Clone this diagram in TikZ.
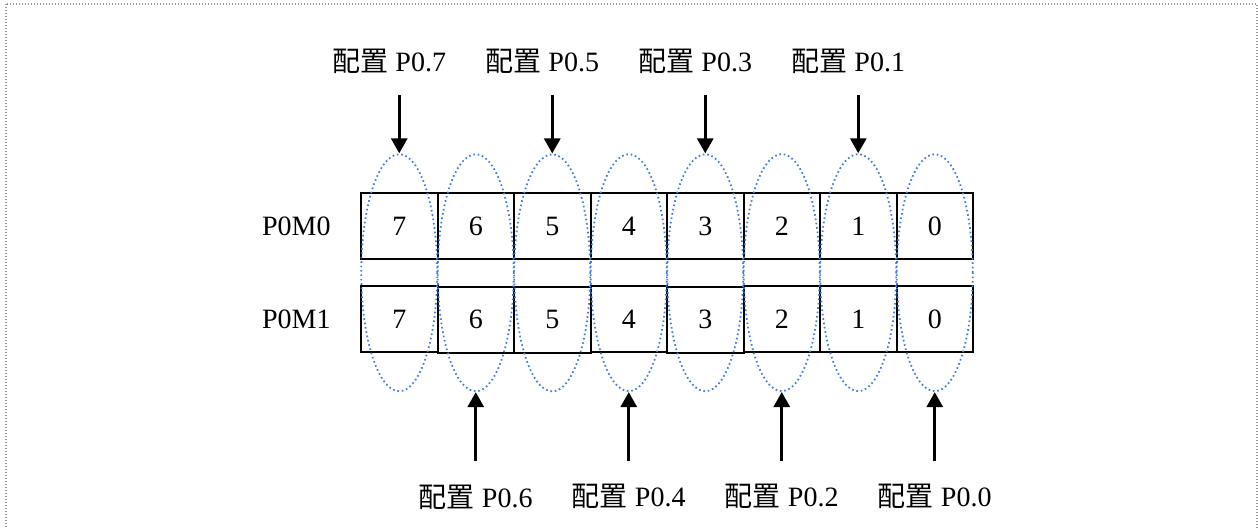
\documentclass[tikz,border=0pt]{standalone}
\usepackage{fontspec}
\setmainfont{Liberation Serif}
\newfontfamily\cjk{Noto Sans CJK SC}
\usetikzlibrary{arrows.meta,calc,matrix,positioning,shapes.geometric}
\definecolor{ringblue}{RGB}{65,125,215}
\definecolor{framegray}{RGB}{150,150,150}
\newcommand{\cfg}[1]{{\cjk 配置} P0.#1}

\begin{document}
\begin{tikzpicture}[x=0.5pt,y=-0.5pt,font=\fontsize{14}{16}\selectfont,
    cell/.style={draw,line width=1pt,minimum width=38.25pt,minimum height=33pt,inner sep=0pt},
    bitring/.style={ellipse,draw=ringblue,line width=0.9pt,dash pattern=on 0.8pt off 1.4pt,
                    minimum width=38pt,minimum height=118.5pt,inner sep=0pt},
    cfglabel/.style={inner sep=0pt},
    cfgarrow/.style={-{Triangle[width=8pt,length=7.5pt]},line width=1.5pt}]

  \useasboundingbox (0,0) rectangle (1258,529);
  \draw [framegray,line width=0.6pt,dash pattern=on 0.6pt off 0.9pt] (6,4) rectangle (1257,560);
%
  \matrix[matrix of nodes,nodes={cell},column sep={38.25pt,between origins},
          row sep={46.75pt,between origins}] (m) at (667,272.75) {
    7 & 6 & 5 & 4 & 3 & 2 & 1 & 0 \\
    7 & 6 & 5 & 4 & 3 & 2 & 1 & 0 \\
  } ;
%
  \node [cfglabel,left=14.5pt of m-1-1] (p0m0) {P0M0};
  \node [cfglabel,left=14.5pt of m-2-1] (p0m1) {P0M1};
%
  \node [bitring] (r7) at ($(m-1-1)!0.5!(m-2-1)$) {};
  \node [bitring] (r6) at ($(m-1-2)!0.5!(m-2-2)$) {};
  \node [bitring] (r5) at ($(m-1-3)!0.5!(m-2-3)$) {};
  \node [bitring] (r4) at ($(m-1-4)!0.5!(m-2-4)$) {};
  \node [bitring] (r3) at ($(m-1-5)!0.5!(m-2-5)$) {};
  \node [bitring] (r2) at ($(m-1-6)!0.5!(m-2-6)$) {};
  \node [bitring] (r1) at ($(m-1-7)!0.5!(m-2-7)$) {};
  \node [bitring] (r0) at ($(m-1-8)!0.5!(m-2-8)$) {};
%
  \node [cfglabel,above=39.5pt of r7,xshift=-5pt] (c7) {\cfg{7}};
  \node [cfglabel,above=39.5pt of r5,xshift=-5pt] (c5) {\cfg{5}};
  \node [cfglabel,above=39.5pt of r3,xshift=-5pt] (c3) {\cfg{3}};
  \node [cfglabel,above=39.5pt of r1,xshift=-5pt] (c1) {\cfg{1}};
%
  \node [cfglabel,below=46pt of r6] (c6) {\cfg{6}};
  \node [cfglabel,below=46pt of r4] (c4) {\cfg{4}};
  \node [cfglabel,below=46pt of r2] (c2) {\cfg{2}};
  \node [cfglabel,below=46pt of r0] (c0) {\cfg{0}};
%
  \draw [cfgarrow,shorten <=10.5pt] (c7.south -| r7.north) -- (r7.north) ;
  \draw [cfgarrow,shorten <=10.5pt] (c5.south -| r5.north) -- (r5.north) ;
  \draw [cfgarrow,shorten <=10.5pt] (c3.south -| r3.north) -- (r3.north) ;
  \draw [cfgarrow,shorten <=10.5pt] (c1.south -| r1.north) -- (r1.north) ;
%
  \draw [cfgarrow,shorten <=11.5pt] (c6.north) -- (r6.south) ;
  \draw [cfgarrow,shorten <=11.5pt] (c4.north) -- (r4.south) ;
  \draw [cfgarrow,shorten <=11.5pt] (c2.north) -- (r2.south) ;
  \draw [cfgarrow,shorten <=11.5pt] (c0.north) -- (r0.south) ;

\end{tikzpicture}
\end{document}
